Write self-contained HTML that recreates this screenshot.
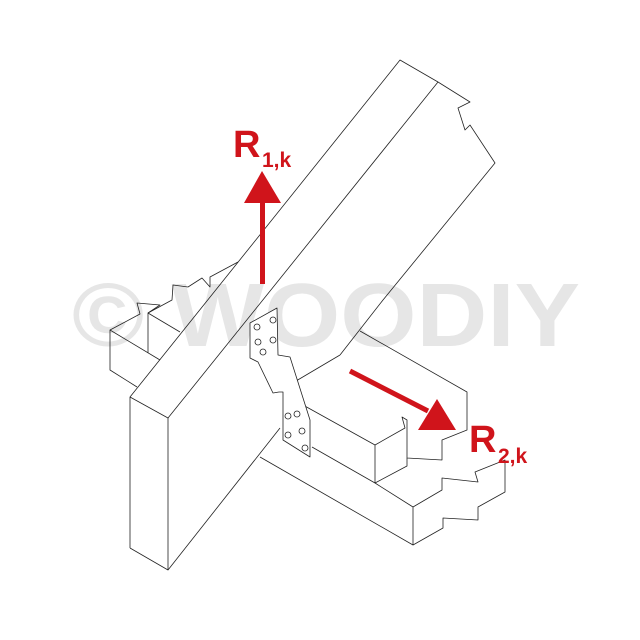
<!DOCTYPE html>
<html><head><meta charset="utf-8"><style>html,body{margin:0;padding:0;background:#fff}svg{display:block}</style></head>
<body>
<svg width="640" height="640" viewBox="0 0 640 640" xmlns="http://www.w3.org/2000/svg">
<rect width="640" height="640" fill="#fff"/>
<text x="72" y="346" font-family="Liberation Sans, sans-serif" font-weight="bold" font-size="90" fill="#e6e6e6" textLength="508" lengthAdjust="spacingAndGlyphs">© WOODIY</text>
<g fill="none" stroke="#222" stroke-width="0.8" stroke-linejoin="round">
<!-- rafter -->
<polyline points="130,548 130,397 400,60 438,82 470,102 458,108 465,130 470,125 495,163 383,300 340,355"/>
<polyline points="130,397 168,418 438,82"/>
<polyline points="168,418 168,570 130,548"/>
<polyline points="168,570 280,428"/>
<!-- left purlin behind -->
<polyline points="137,387 110,370 110,330 140,314 137,303 160,305 148,313 148,353"/>
<polyline points="110,330 160,360"/>
<polyline points="148,313 180,332"/>
<polyline points="148,313 172,300 173,285 188,287 202,278 210,287 210,277 238,262"/>
<!-- joist -->
<polyline points="340,355 296,381"/>
<polyline points="360,331 467,392 467,430 442,440 442,460 407,458 407,420 402,417 405,428 375,445 303,405"/>
<polyline points="375,445 375,483 312,447"/>
<polyline points="375,483 407,466 407,458"/>
<!-- lower beam -->
<polyline points="260,457 413,545 413,507 375,483"/>
<polyline points="413,507 442,490 442,478 478,482 475,472 505,460 505,492 478,507 478,520 443,518 443,528 413,545"/>
<!-- plate -->
<polygon fill="#fff" points="250,323 277,308 278,355 290,357 310,420 310,457 283,440 283,392 279,392 273,393 258,362 250,358"/>
</g>
<g fill="#fff" stroke="#222" stroke-width="0.8">
<circle cx="257" cy="327" r="3"/><circle cx="273" cy="320" r="3"/><circle cx="258" cy="342" r="3"/><circle cx="273" cy="340" r="3"/><circle cx="263" cy="352" r="3"/>
<circle cx="288" cy="416" r="3"/><circle cx="297" cy="414" r="3"/><circle cx="288" cy="435" r="3"/><circle cx="302" cy="431" r="3"/><circle cx="305" cy="448" r="3"/>
</g>
<g fill="#d0141b" stroke="none">
<rect x="260" y="200" width="5" height="84"/>
<polygon points="262,171 244,203 281,203"/>
<line x1="350" y1="371" x2="428" y2="411" stroke="#d0141b" stroke-width="5"/>
<polygon points="437,399 418,430 456,430"/>
<text font-family="Liberation Sans, sans-serif" font-weight="bold" x="233" y="157" font-size="38">R</text>
<text font-family="Liberation Sans, sans-serif" font-weight="bold" x="262" y="167" font-size="21">1,k</text>
<text font-family="Liberation Sans, sans-serif" font-weight="bold" x="469" y="452" font-size="38">R</text>
<text font-family="Liberation Sans, sans-serif" font-weight="bold" x="498" y="463" font-size="21">2,k</text>
</g>
</svg>
</body></html>
